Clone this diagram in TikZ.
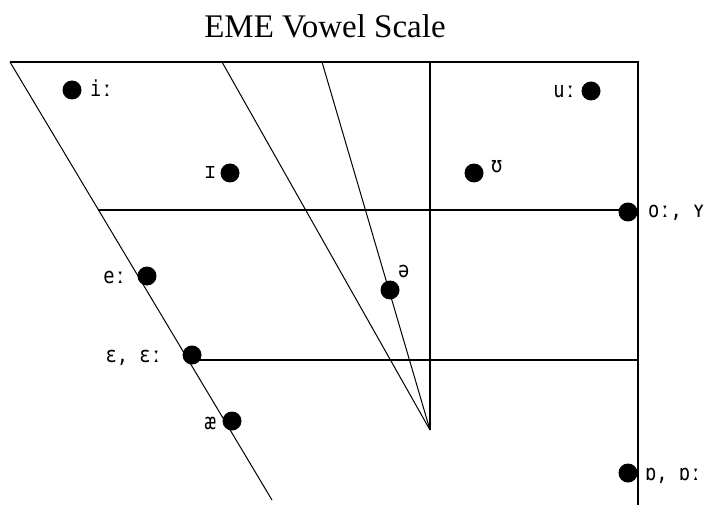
\documentclass[tikz,border=0pt]{standalone}
\usepackage{fontspec}
\setmainfont{Liberation Serif}
\newfontfamily\ipafont[FakeStretch=0.85]{DejaVu Sans Mono}
\begin{document}
\begin{tikzpicture}[x=1pt,y=-1pt,
  dot/.style={circle,fill=black,inner sep=0pt,minimum size=19pt},
  lbl/.style={font=\ipafont\fontsize{22}{22}\selectfont,inner sep=0pt},
  frame/.style={line width=1.6pt},
  slant/.style={line width=1pt}]
\useasboundingbox (0,0) rectangle (712,505);
\node[anchor=base,font=\fontsize{33}{33}\selectfont,inner sep=0pt] (title) at (325,38) {EME Vowel Scale};
\coordinate (tl) at (10,62);
\coordinate (tr) at (638,62);
\coordinate (br) at (638,505);
\coordinate (mt) at (430,62);
\coordinate (apex) at (430,430);
\coordinate (s2) at (222,62);
\coordinate (s3) at (322,62);
\coordinate (lb) at (272,500);
\coordinate (h1l) at (98,210);
\coordinate (h1r) at (638,210);
\coordinate (h2l) at (192,360);
\coordinate (h2r) at (638,360);
\draw[frame] (tl) -- (tr) -- (br);
\draw[frame] (mt) -- (apex);
\draw[frame] (h1l) -- (h1r);
\draw[frame] (h2l) -- (h2r);
\draw[slant] (tl) -- (lb);
\draw[slant] (s2) -- (apex);
\draw[slant] (s3) -- (apex);
% dots
\node[dot] (ii) at (72,90) {};
\node[lbl,anchor=base west] (iil) at (90,97) {iː};
\node[dot] (ih) at (230,173) {};
\node[lbl,anchor=base east] (ihl) at (216,179) {ɪ};
\node[dot] (uu) at (591,91) {};
\node[lbl,anchor=base east] (uul) at (576,98) {uː};
\node[dot] (uh) at (474,173) {};
\node[lbl,anchor=base west] (uhl) at (491,173) {ʊ};
\node[dot] (oo) at (628,212) {};
\node[lbl,anchor=base west] (ool) at (648,218) {oː, ʏ};
\node[dot] (sch) at (390,290) {};
\node[lbl,anchor=base west] (schl) at (398,277) {ə};
\node[dot] (ee) at (147,276) {};
\node[lbl,anchor=base east] (eel) at (126,283) {eː};
\node[dot] (eps) at (192,355) {};
\node[lbl,anchor=base east] (epsl) at (162,362) {ɛ, ɛː};
\node[dot] (ae) at (232,421) {};
\node[lbl,anchor=base east] (ael) at (216,429) {æ};
\node[dot] (ao) at (628,473) {};
\node[lbl,anchor=base west] (aol) at (645,480) {ɒ, ɒː};
\end{tikzpicture}
\end{document}
